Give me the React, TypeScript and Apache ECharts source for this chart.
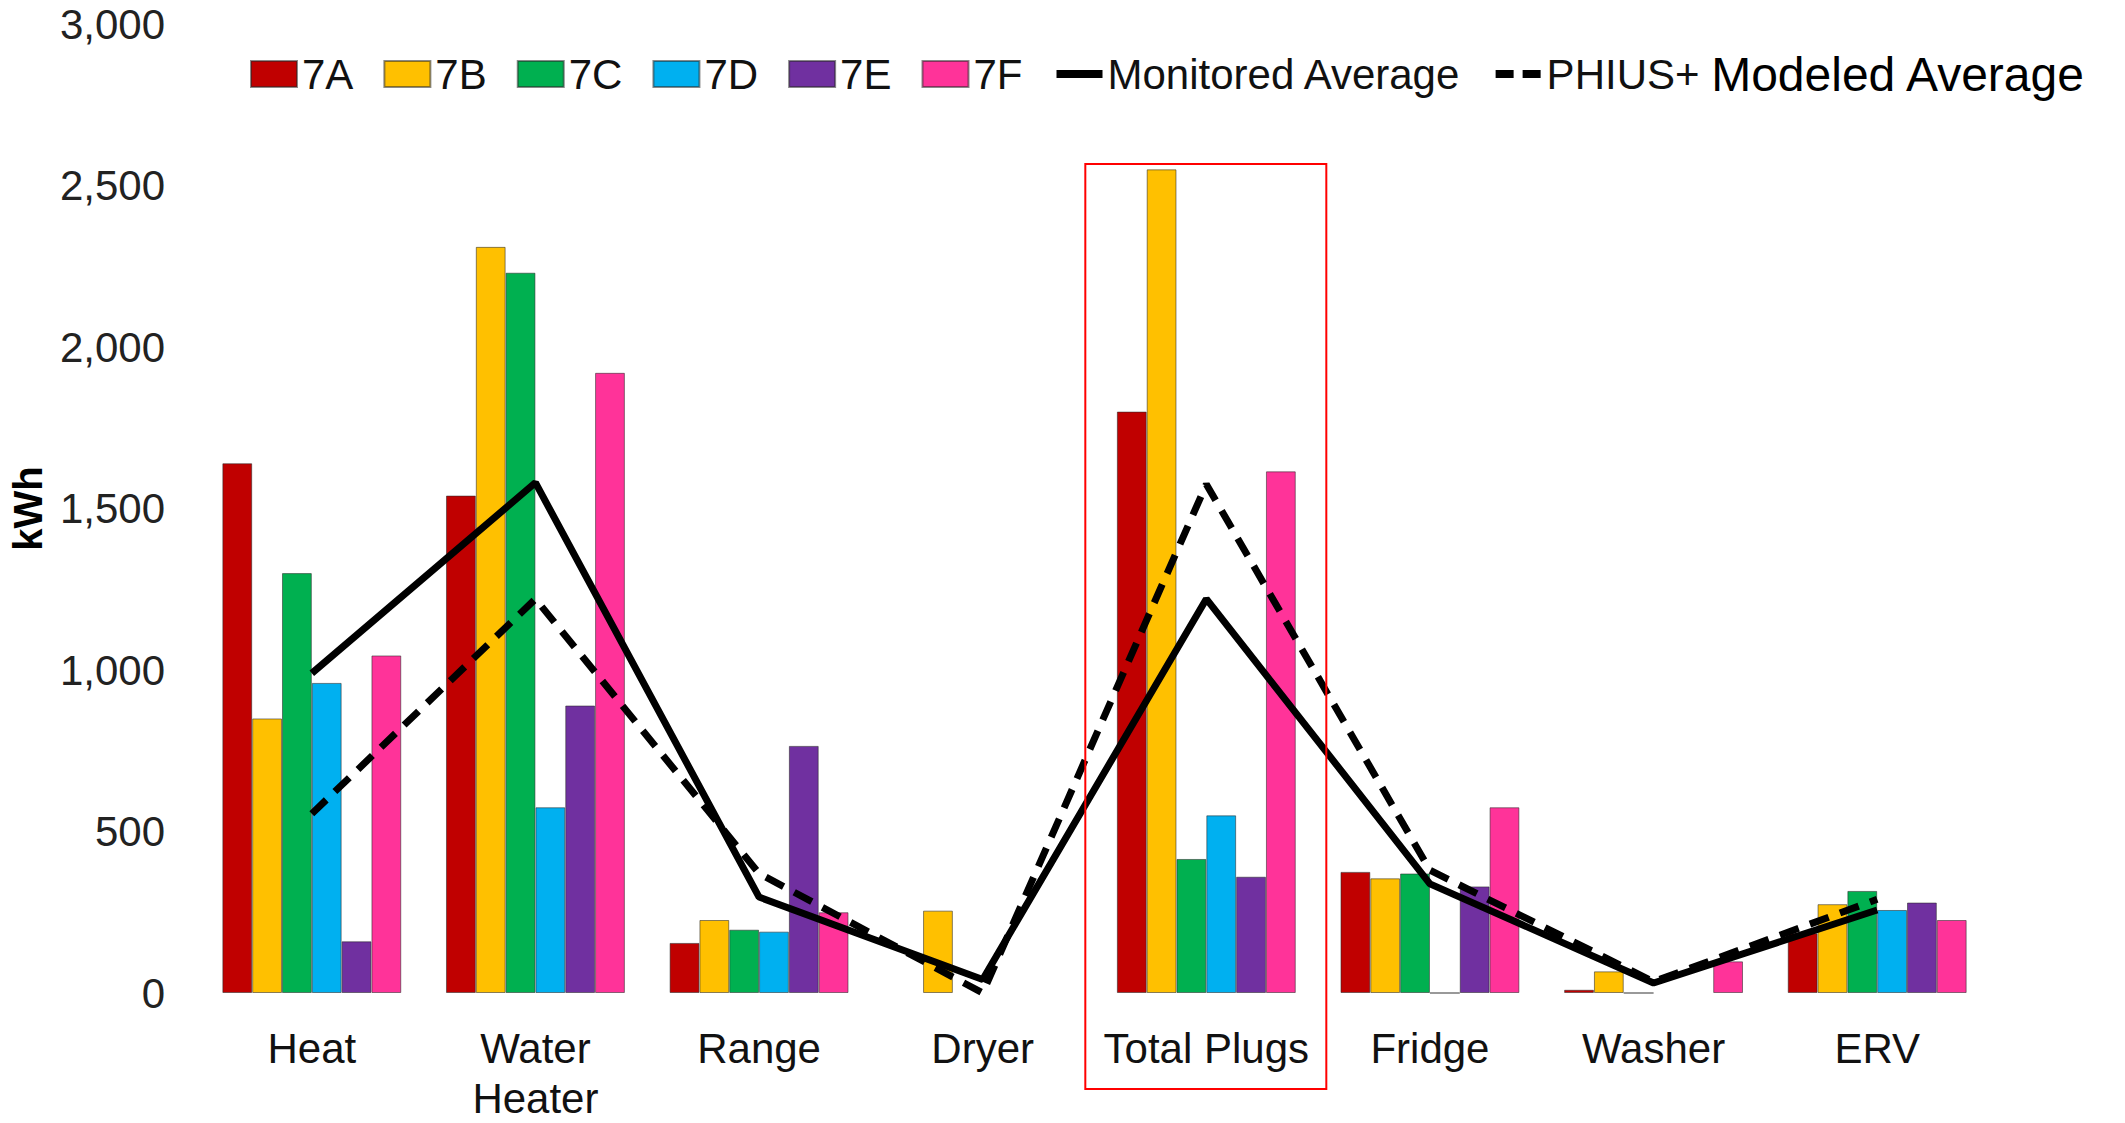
import React, { useEffect, useRef } from "react";
import * as echarts from "echarts";

// End-use categories and annual energy per unit (kWh); null = no bar drawn
const categories = ["Heat", "Water\nHeater", "Range", "Dryer", "Total Plugs", "Fridge", "Washer", "ERV"];
const unit7A = [1640, 1540, 155, null, 1800, 375, 10, 185];
const unit7B = [850, 2310, 226, 255, 2550, 355, 67, 275];
const unit7C = [1300, 2230, 196, null, 415, 370, 0, 316];
const unit7D = [960, 575, 190, null, 550, 0, null, 257];
const unit7E = [160, 890, 765, null, 360, 330, null, 280];
const unit7F = [1045, 1920, 250, null, 1615, 575, 98, 226];
const monitoredAverage = [990, 1580, 297, 42, 1220, 338, 31, 257];
const modeledAverage = [555, 1220, 370, 0, 1575, 380, 35, 290];
const yTicks = { min: 0, max: 3000, interval: 500 };

const unitNames = ["7A", "7B", "7C", "7D", "7E", "7F"];
const unitValues = [unit7A, unit7B, unit7C, unit7D, unit7E, unit7F];
const unitColors = ["#C00000", "#FFC000", "#00B050", "#00B0F0", "#7030A0", "#FF3399"];
const MONITORED = "Monitored Average";
const MODELED = "PHIUS+ Modeled Average";
const highlighted = 4; // Total Plugs

const FONT = "'Liberation Sans', Arial, sans-serif";

export default function App() {
  const ref = useRef<HTMLDivElement | null>(null);

  useEffect(() => {
    if (!ref.current) return;
    const chart = echarts.init(ref.current, undefined, { renderer: "svg" });

    const barSeries = unitNames.map((name, i) => ({
      name,
      type: "bar",
      data: unitValues[i],
      barGap: "0%",
      barCategoryGap: "20%",
      itemStyle: { color: unitColors[i], borderColor: "rgba(40,40,40,0.55)", borderWidth: 1 },
    }));

    // line entries in the legend show only a thick stroke, no marker
    const lineLegendItem = (name: string, dash: number[] | "solid") => ({
      name,
      itemStyle: { color: "rgba(0,0,0,0)", opacity: 0, borderWidth: 0 },
      lineStyle: { width: 8, color: "#000", type: dash },
    });

    chart.setOption({
      animation: false,
      backgroundColor: "#ffffff",
      textStyle: { fontFamily: FONT },
      grid: { left: 200, right: 136, top: 24, bottom: 123 },
      legend: {
        left: 245,
        top: 45,
        itemWidth: 46,
        itemHeight: 26,
        itemGap: 30,
        data: [
          ...unitNames.map((name) => ({ name, icon: "rect" })),
          lineLegendItem(MONITORED, "solid"),
          lineLegendItem(MODELED, [18, 9]),
        ],
        textStyle: {
          fontSize: 42,
          color: "#111",
          fontFamily: FONT,
          rich: {
            a: { fontSize: 42, color: "#111", fontFamily: FONT },
            b: { fontSize: 48, color: "#000", fontFamily: FONT },
          },
        },
        formatter: (name: string) =>
          name === MODELED ? "{a|PHIUS+} {b|Modeled Average}" : name,
      },
      xAxis: {
        type: "category",
        data: categories,
        axisLine: { show: false },
        axisTick: { show: false },
        axisLabel: {
          interval: 0,
          fontSize: 42,
          color: "#111",
          margin: 30,
          lineHeight: 50,
          fontFamily: FONT,
        },
      },
      yAxis: {
        type: "value",
        min: yTicks.min,
        max: yTicks.max,
        interval: yTicks.interval,
        splitLine: { show: false },
        axisLine: { show: false },
        axisTick: { show: false },
        axisLabel: {
          fontSize: 42,
          color: "#222",
          margin: 35,
          fontFamily: FONT,
          formatter: (v: number) => v.toLocaleString("en-US"),
        },
        name: "kWh",
        nameLocation: "middle",
        nameGap: 152,
        nameTextStyle: { fontSize: 40, fontWeight: "bold", color: "#000", fontFamily: FONT },
      },
      series: [
        ...barSeries,
        {
          name: MONITORED,
          type: "line",
          data: monitoredAverage,
          symbol: "none",
          z: 5,
          lineStyle: { color: "#000", width: 7 },
          itemStyle: { color: "#000" },
        },
        {
          name: MODELED,
          type: "line",
          data: modeledAverage,
          symbol: "none",
          z: 5,
          lineStyle: { color: "#000", width: 7, type: [20, 12] },
          itemStyle: { color: "#000" },
        },
      ],
    });

    // Red outline around the Total Plugs group
    const cx = chart.convertToPixel({ xAxisIndex: 0 }, highlighted) as number;
    chart.setOption({
      graphic: [
        {
          type: "rect",
          shape: { x: cx - 121, y: 164, width: 241, height: 925 },
          style: { fill: "none", stroke: "#FF0000", lineWidth: 2 },
          z: 10,
        },
      ],
    });

    return () => chart.dispose();
  }, []);

  return (
    <div
      ref={ref}
      style={{ position: "fixed", left: 0, top: 0, width: 2125, height: 1123, background: "#fff" }}
    />
  );
}
